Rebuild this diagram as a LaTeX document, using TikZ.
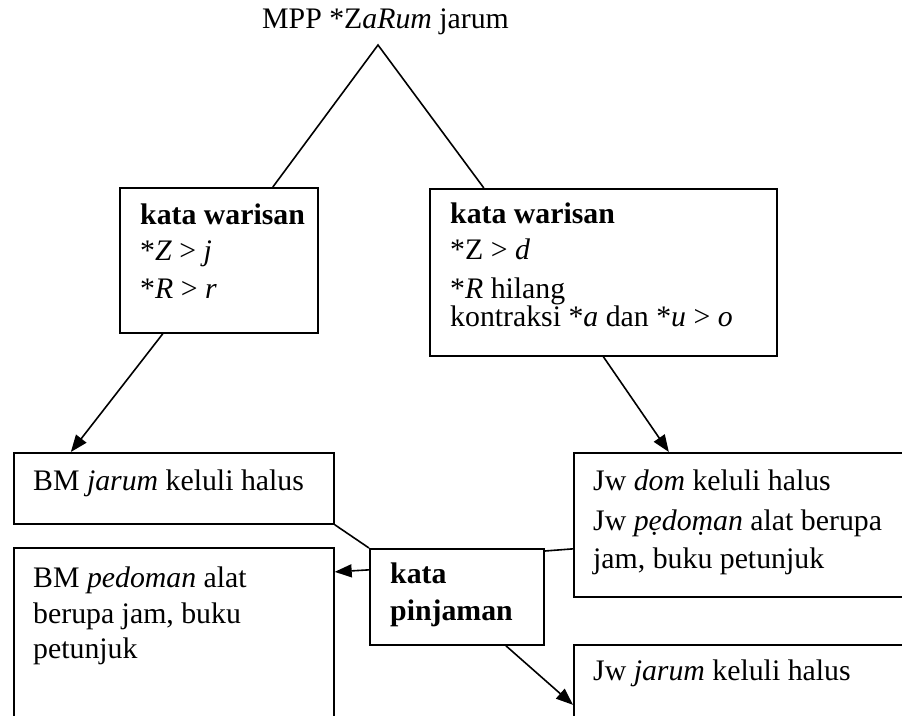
\documentclass[tikz,border=0pt]{standalone}
\usepackage{fontspec}
\setmainfont{Liberation Serif}
\usetikzlibrary{arrows.meta}
\begin{document}
\begin{tikzpicture}[x=1pt,y=-1pt,
  box/.style={draw,line width=1.7pt,anchor=north west,inner sep=0pt},
  txt/.style={anchor=base west,inner sep=0pt,font=\fontsize{29.8}{34}\selectfont},
  conn/.style={line width=1.6pt},
  arr/.style={line width=1.6pt,-{Triangle[length=17pt,width=13pt]}}]
\useasboundingbox (0,0) rectangle (902,715);
\clip (0,0) rectangle (902,715);
\fill[white] (0,0) rectangle (902,715);
% boxes
\node[box,minimum width=198pt,minimum height=145pt] (lw) at (119,187) {};
\node[box,minimum width=347pt,minimum height=167pt] (rw) at (429,188) {};
\node[box,minimum width=320pt,minimum height=71pt] (bmj) at (13,452) {};
\node[box,minimum width=320pt,minimum height=213pt] (bmp) at (13,547) {};
\node[box,minimum width=174pt,minimum height=96pt] (kp) at (369,548) {};
\node[box,minimum width=347pt,minimum height=144pt] (jwd) at (573,452) {};
\node[box,minimum width=347pt,minimum height=140pt] (jwj) at (573,644) {};
\coordinate (apex) at (378,45);
% texts
\node[txt] (t0) at (262,28) {MPP *Z\textit{aRum} jarum};
\node[txt] (l1) at (140,224) {\textbf{kata warisan}};
\node[txt] (l2) at (140,260) {*\textit{Z} > \textit{j}};
\node[txt] (l3) at (140,298) {*\textit{R} > \textit{r}};
\node[txt] (r1) at (450,223) {\textbf{kata warisan}};
\node[txt] (r2) at (450,259) {*Z > \textit{d}};
\node[txt] (r3) at (450,298) {*\textit{R} hilang};
\node[txt] (r4) at (450,326) {kontraksi *\textit{a} dan *\textit{u} > \textit{o}};
\node[txt] (b1) at (33,490) {BM \textit{jarum} keluli halus};
\node[txt] (p1) at (33,587) {BM \textit{pedoman} alat};
\node[txt] (p2) at (33,623) {berupa jam, buku};
\node[txt] (p3) at (33,658) {petunjuk};
\node[txt] (k1) at (390,583) {\textbf{kata}};
\node[txt] (k2) at (390,620) {\textbf{pinjaman}};
\node[txt] (d1) at (593,490) {Jw \textit{dom} keluli halus};
\node[txt] (d2) at (593,530) {Jw \textit{pẹdoṃan} alat berupa};
\node[txt] (d3) at (593,568) {jam, buku petunjuk};
\node[txt] (j1) at (593,680) {Jw \textit{jarum} keluli halus};
% connectors
\draw[conn] ([xshift=54pt]lw.north) -- (apex) -- ([xshift=-119.5pt]rw.north);
\draw[arr] ([xshift=-56pt]lw.south) -- ([xshift=-103pt]bmj.north);
\draw[arr] (rw.south) -- ([xshift=-78.5pt]jwd.north);
\draw[conn] (bmj.south east) -- (kp.north west);
\draw[conn] ([yshift=-3pt]kp.north east) -- ([yshift=-24pt]jwd.west);
\draw[arr] ([yshift=27pt]kp.west) -- ([yshift=82.5pt]bmp.east);
\draw[arr] ([xshift=49pt]kp.south) -- ([yshift=10pt]jwj.west);
\end{tikzpicture}
\end{document}
